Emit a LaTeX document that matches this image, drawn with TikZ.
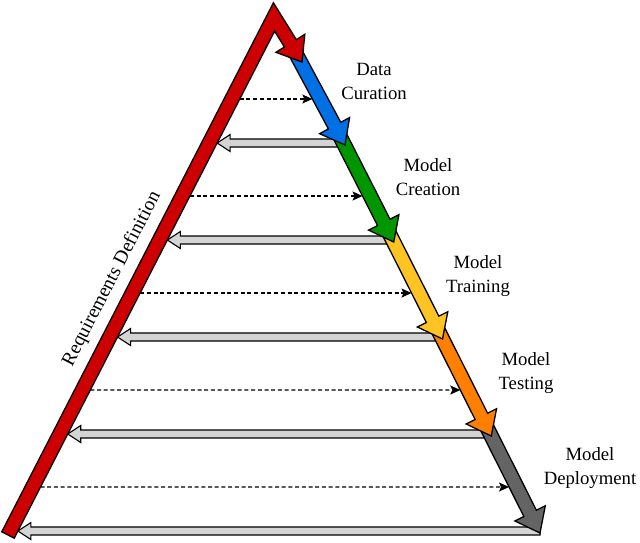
\documentclass[tikz,border=0pt]{standalone}
\usepackage{fontspec}
\setmainfont{Liberation Serif}
\usetikzlibrary{calc,arrows.meta}
\definecolor{cRed}{RGB}{204,0,0}
\definecolor{cBlue}{RGB}{0,112,228}
\definecolor{cGreen}{RGB}{0,150,0}
\definecolor{cYellow}{RGB}{255,196,35}
\definecolor{cOrange}{RGB}{255,128,0}
\definecolor{cGray}{RGB}{100,100,100}
\definecolor{cLight}{RGB}{212,212,212}
\tikzset{
  fatline/.style={draw=black, line width=1.3pt, line join=miter},
  backarrow/.style={draw=black, line width=1.1pt, fill=cLight, line join=miter},
  fwdarrow/.style={draw=black, line width=1.1pt, dash pattern=on 4pt off 2.7pt, -{Stealth[length=10pt,width=9pt,inset=2pt]}},
  lbl/.style={font=\fontsize{18.7}{24}\selectfont, align=center, inner sep=0pt},
}
\newcommand{\fatarrow}[4]{%
  \coordinate (#4b) at ($(#2)!22pt!(#1)$);
  \coordinate (#4o0) at ($(#1)!7pt!90:(#2)$);
  \coordinate (#4o1) at ($(#4b)!7pt!90:(#2)$);
  \coordinate (#4h1) at ($(#4b)!17pt!90:(#2)$);
  \coordinate (#4h2) at ($(#4b)!17pt!-90:(#2)$);
  \coordinate (#4i1) at ($(#4b)!7pt!-90:(#2)$);
  \coordinate (#4i0) at ($(#1)!7pt!-90:(#2)$);
  \draw[fatline, fill=#3] (#4o0) -- (#4o1) -- (#4h1) -- (#2) -- (#4h2) -- (#4i1) -- (#4i0) -- cycle;
}
\newcommand{\backarr}[3]{% #1 y level, #2 right x, #3 name
  \coordinate (#3l) at (0,#1);
  \coordinate (#3r) at (#2,#1);
  \coordinate (#3t) at (intersection of Li0--Li1 and #3l--#3r);
  \draw[backarrow] ($(#3r)+(0,-4)$) -- ($(#3t)+(13,-4)$) -- ($(#3t)+(13,-8.5)$) -- (#3t)
     -- ($(#3t)+(13,8.5)$) -- ($(#3t)+(13,4)$) -- ($(#3r)+(0,4)$) -- cycle;
}
\newcommand{\fwdarr}[3]{% #1 y level, #2 arrow prefix, #3 name
  \coordinate (#3l) at (0,#1);
  \coordinate (#3r) at (600,#1);
  \coordinate (#3s) at (intersection of Li0--Li1 and #3l--#3r);
  \coordinate (#3e) at (intersection of #2i0--#2i1 and #3l--#3r);
  \draw[fwdarrow] (#3s) -- (#3e);
}
\begin{document}
\begin{tikzpicture}[x=1pt,y=-1pt]
\useasboundingbox (0,0) rectangle (640,542);
% key points
\coordinate (L0) at (8,535);
\coordinate (A) at (274,17);
\coordinate (T0) at (302,62);
\coordinate (T1) at (345,145);
\coordinate (T2) at (393.75,242);
\coordinate (T3) at (442.5,339);
\coordinate (T4) at (491.25,436);
\coordinate (T5) at (540,533);
% red band geometry
\coordinate (Lo0) at ($(L0)!7pt!90:(A)$);
\coordinate (Lo1) at ($(A)!7pt!-90:(L0)$);
\coordinate (Li0) at ($(L0)!7pt!-90:(A)$);
\coordinate (Li1) at ($(A)!7pt!90:(L0)$);
\coordinate (rb) at ($(T0)!22pt!(A)$);
\coordinate (Ro0) at ($(A)!7pt!90:(T0)$);
\coordinate (Ro1) at ($(rb)!7pt!90:(T0)$);
\coordinate (Ri0) at ($(A)!7pt!-90:(T0)$);
\coordinate (Ri1) at ($(rb)!7pt!-90:(T0)$);
\coordinate (Rh1) at ($(rb)!17pt!90:(T0)$);
\coordinate (Rh2) at ($(rb)!17pt!-90:(T0)$);
\coordinate (OA) at (intersection of Lo0--Lo1 and Ro0--Ro1);
\coordinate (IA) at (intersection of Li0--Li1 and Ri0--Ri1);
% backward (feedback) arrows
\backarr{143}{345}{g1}
\backarr{240}{393.75}{g2}
\backarr{337}{442.5}{g3}
\backarr{434}{491.25}{g4}
\backarr{531}{540}{g5}
% forward stage arrows (drawn bottom-up so heads overlap next shafts)
\coordinate (S1) at (rb);
\coordinate (S2) at ($(T1)!22pt!(S1)$);
\coordinate (S3) at ($(T2)!22pt!(S2)$);
\coordinate (S4) at ($(T3)!22pt!(S3)$);
\coordinate (S5) at ($(T4)!22pt!(S4)$);
\fatarrow{S5}{T5}{cGray}{e}
\fatarrow{S4}{T4}{cOrange}{d}
\fatarrow{S3}{T3}{cYellow}{c}
\fatarrow{S2}{T2}{cGreen}{b}
\fatarrow{S1}{T1}{cBlue}{a}
% red requirements band
\draw[fatline, fill=cRed] (Lo0) -- (OA) -- (Ro1) -- (Rh1) -- (T0) -- (Rh2) -- (Ri1) -- (IA) -- (Li0) -- cycle;
% dashed forward arrows
\fwdarr{99}{a}{f1}
\fwdarr{196}{b}{f2}
\fwdarr{293}{c}{f3}
\fwdarr{390}{d}{f4}
\fwdarr{487}{e}{f5}
% labels
\node[lbl] (dc) at (374,81) {Data\\Curation};
\node[lbl] (mc) at (428,177) {Model\\Creation};
\node[lbl] (mtr) at (478,276) {Model\\Training};
\node[lbl] (mte) at (526,373) {Model\\Testing};
\node[lbl] (mde) at (590,468) {Model\\Deployment};
\node[font=\fontsize{19.5}{24}\selectfont, rotate=62.8, inner sep=0pt] (rd) at (112,279) {Requirements Definition};
\end{tikzpicture}
\end{document}
